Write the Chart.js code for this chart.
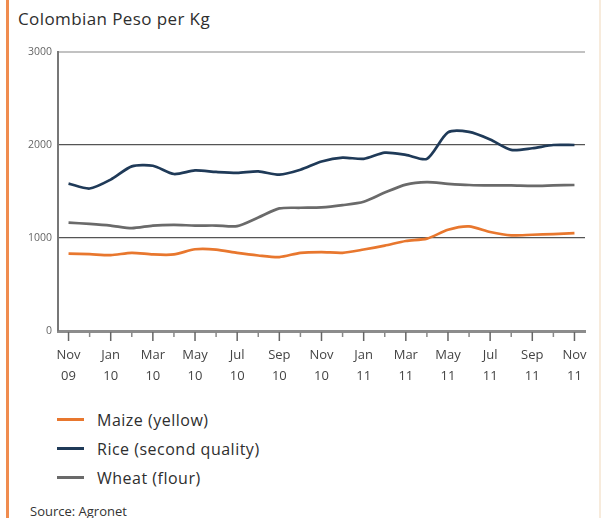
<!DOCTYPE html>
<html>
<head>
<meta charset="utf-8">
<script src="https://cdn.jsdelivr.net/npm/chart.js@4"></script>
<style>
  body { margin: 0; background: #fff; font-family: 'Open Sans', sans-serif; color: #333; }
  .page { position: relative; width: 606px; height: 518px; overflow: hidden; background: #fff; }
  .side-bar { position: absolute; left: 6px; top: 0; width: 3px; height: 518px; background: #f08c4f; }
  .right-edge { position: absolute; left: 599px; top: 0; width: 2px; height: 518px; background: #f7ebdc; }
  .title { position: absolute; left: 18px; top: 7px; font-size: 17px; letter-spacing: 0.4px; color: #2e2e2e; }
  .chart-box { position: absolute; left: 0; top: 0; width: 606px; height: 400px; }
  .legend { position: absolute; left: 57px; top: 405px; }
  .legend-item { height: 29px; display: flex; align-items: center; font-size: 16px; letter-spacing: 0.5px; color: #2e2e2e; }
  .legend-item span.swatch { display: inline-block; width: 27px; height: 3px; margin-right: 13px; }
  .source { position: absolute; left: 30px; top: 502px; font-size: 13px; color: #333; }
</style>
</head>
<body>
<div class="page">
  <div class="side-bar"></div>
  <div class="right-edge"></div>
  <div class="title">Colombian Peso per Kg</div>
  <div class="chart-box"><canvas id="priceChart" width="606" height="400"></canvas></div>
  <div class="legend" id="legend"></div>
  <div class="source">Source: Agronet</div>
</div>
<script>
// Months Nov 2009 - Nov 2011
const months = ['Nov 09', 'Dec 09', 'Jan 10', 'Feb 10', 'Mar 10', 'Apr 10', 'May 10', 'Jun 10', 'Jul 10',
  'Aug 10', 'Sep 10', 'Oct 10', 'Nov 10', 'Dec 10', 'Jan 11', 'Feb 11', 'Mar 11', 'Apr 11', 'May 11',
  'Jun 11', 'Jul 11', 'Aug 11', 'Sep 11', 'Oct 11', 'Nov 11'];

const maize = [833, 826, 816, 841, 823, 823, 879, 876, 840, 812, 795, 841, 848, 841, 876, 918, 968, 993,
  1088, 1124, 1064, 1028, 1035, 1042, 1053];
const rice = [1585, 1532, 1628, 1770, 1777, 1688, 1727, 1710, 1700, 1716, 1681, 1734, 1823, 1865, 1851,
  1918, 1894, 1851, 2135, 2141, 2060, 1947, 1965, 2000, 2000];
const wheat = [1165, 1152, 1134, 1106, 1134, 1141, 1134, 1134, 1127, 1220, 1318, 1325, 1329, 1353, 1389,
  1488, 1574, 1600, 1583, 1570, 1565, 1565, 1560, 1565, 1570];

const yTicks = [0, 1000, 2000, 3000];

const seriesNames = ['Maize (yellow)', 'Rice (second quality)', 'Wheat (flour)'];
const seriesColors = ['#e8772e', '#1f3a58', '#6a6a6a'];

// Small tick marks under the x axis: long for labelled months, short for the others
const monthTicks = {
  id: 'monthTicks',
  afterDraw(chart) {
    const x = chart.scales.x;
    const ctx = chart.ctx;
    const base = chart.chartArea.bottom + 1;
    ctx.save();
    ctx.lineWidth = 1.5;
    months.forEach((m, i) => {
      const px = x.getPixelForTick(i);
      ctx.strokeStyle = i % 2 === 0 ? '#666' : '#888';
      ctx.beginPath();
      ctx.moveTo(px, base);
      ctx.lineTo(px, base + (i % 2 === 0 ? 9 : 5));
      ctx.stroke();
    });
    ctx.restore();
  }
};

document.addEventListener('DOMContentLoaded', function() {
  const ctx = document.getElementById('priceChart');
  const data = [maize, rice, wheat];

  new Chart(ctx, {
    type: 'line',
    data: {
      labels: months,
      datasets: seriesNames.map((name, i) => ({
        label: name,
        data: data[i],
        borderColor: seriesColors[i],
        borderWidth: 2.7,
        tension: 0.25,
        pointRadius: 0,
        fill: false
      }))
    },
    options: {
      responsive: false,
      animation: false,
      layout: {
        padding: { top: 52, right: 21, bottom: 15, left: 0 }
      },
      scales: {
        x: {
          offset: true,
          grid: { display: false, drawTicks: false },
          border: { display: true, color: '#8c8c8c', width: 3 },
          afterFit: scale => { scale.height = 54; },
          ticks: {
            autoSkip: false,
            maxRotation: 0,
            padding: 14,
            color: '#444',
            font: { family: 'Open Sans', size: 13, lineHeight: 1.6 },
            callback: function(value, index) {
              return index % 2 === 0 ? months[index].split(' ') : '';
            }
          }
        },
        y: {
          min: 0,
          max: 3000,
          afterFit: scale => { scale.width = 58; },
          afterBuildTicks: scale => { scale.ticks = yTicks.map(v => ({ value: v })); },
          border: { display: true, color: '#777', width: 2 },
          grid: {
            drawTicks: false,
            color: c => c.tick.value === 3000 ? '#c2c2c2' : (c.tick.value === 0 ? 'rgba(0,0,0,0)' : '#555'),
            lineWidth: c => c.tick.value === 3000 ? 2 : 1.2
          },
          ticks: {
            padding: 6,
            color: '#666',
            font: { family: 'Open Sans', size: 10.5 },
            callback: value => String(value)
          }
        }
      },
      plugins: {
        legend: { display: false },
        tooltip: { enabled: false }
      }
    },
    plugins: [monthTicks]
  });

  // HTML legend stacked under the chart
  const legend = document.getElementById('legend');
  seriesNames.forEach((name, i) => {
    const item = document.createElement('div');
    item.className = 'legend-item';
    item.innerHTML = '<span class="swatch" style="background:' + seriesColors[i] + '"></span>' + name;
    legend.appendChild(item);
  });
});
</script>
</body>
</html>
